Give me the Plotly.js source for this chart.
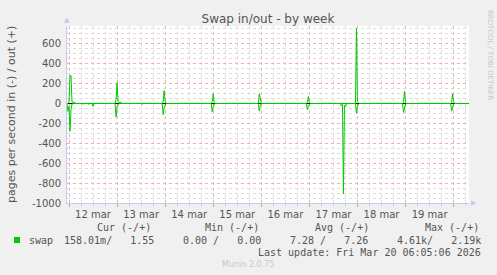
<!DOCTYPE html>
<html>
<head>
<meta charset="utf-8">
<script src="https://cdn.plot.ly/plotly-3.0.1.min.js"></script>
<style>
html,body{margin:0;padding:0;background:#f0f0f0;}
#chart{width:497px;height:275px;}
</style>
</head>
<body>
<div id="chart"></div>
<script>
// ---- data ----
var times = [
  "2026-03-11 23:00","2026-03-11 23:30","2026-03-12 00:00","2026-03-12 00:30","2026-03-12 01:00","2026-03-12 01:30","2026-03-12 02:30","2026-03-12 03:30",
  "2026-03-12 06:30","2026-03-12 07:00","2026-03-12 07:30","2026-03-12 09:30","2026-03-12 10:00","2026-03-12 10:30","2026-03-12 11:30","2026-03-12 12:00","2026-03-12 12:30",
  "2026-03-12 23:00","2026-03-12 23:30","2026-03-13 00:00","2026-03-13 00:30","2026-03-13 01:00","2026-03-13 02:00","2026-03-13 02:30",
  "2026-03-13 12:00","2026-03-13 12:30","2026-03-13 13:00",
  "2026-03-13 22:30","2026-03-13 23:00","2026-03-13 23:30","2026-03-14 00:00","2026-03-14 00:30",
  "2026-03-14 23:00","2026-03-14 23:30","2026-03-15 00:00","2026-03-15 00:30","2026-03-15 01:00",
  "2026-03-15 22:00","2026-03-15 22:30","2026-03-15 23:00","2026-03-15 23:30","2026-03-16 00:00",
  "2026-03-16 22:30","2026-03-16 23:00","2026-03-16 23:30","2026-03-17 00:00","2026-03-17 00:30",
  "2026-03-17 15:30","2026-03-17 16:00","2026-03-17 16:30","2026-03-17 17:00","2026-03-17 17:30","2026-03-17 18:00","2026-03-17 18:30","2026-03-17 19:00",
  "2026-03-17 23:00","2026-03-17 23:30","2026-03-18 00:00","2026-03-18 00:30","2026-03-18 01:00",
  "2026-03-18 15:30","2026-03-18 16:00","2026-03-18 16:30",
  "2026-03-18 22:30","2026-03-18 23:00","2026-03-18 23:30","2026-03-19 00:00","2026-03-19 00:30",
  "2026-03-19 11:00","2026-03-19 11:30","2026-03-19 12:00","2026-03-19 13:30","2026-03-19 14:00","2026-03-19 14:30",
  "2026-03-19 22:30","2026-03-19 23:00","2026-03-19 23:30","2026-03-20 00:00","2026-03-20 00:30","2026-03-20 07:30"
];
var swapOut = [
  0,0,20,280,280,15,10,0,
  0,0,0,0,0,0,0,0,0,
  0,40,207,20,10,10,0,
  0,0,0,
  0,20,130,20,0,
  0,20,97,10,0,
  0,0,97,20,0,
  0,15,70,10,0,
  0,0,0,0,0,0,0,0,
  0,757,20,10,0,
  0,0,0,
  0,20,120,10,0,
  0,0,0,0,0,0,
  0,10,97,20,0,0
];
var swapIn = [
  0,80,30,280,60,5,0,0,
  0,10,0,0,10,0,0,30,0,
  0,137,30,10,0,0,0,
  0,8,0,
  0,113,40,10,0,
  0,83,30,5,0,
  0,10,77,20,0,
  0,63,20,5,0,
  0,25,10,910,20,30,5,0,
  0,97,30,5,0,
  0,5,0,
  0,90,30,5,0,
  0,5,0,0,5,0,
  0,77,30,5,0,0
];
var yTickVals = [-1000,-800,-600,-400,-200,0,200,400,600];
var yTickText = ["-1000","-800","-600","-400","-200","0","200","400","600"];
var dayLabelPos = ["2026-03-12 12:00","2026-03-13 12:00","2026-03-14 12:00","2026-03-15 12:00","2026-03-16 12:00","2026-03-17 12:00","2026-03-18 12:00","2026-03-19 12:00"];
var dayLabels = ["12 mar","13 mar","14 mar","15 mar","16 mar","17 mar","18 mar","19 mar"];
var legendCols = ["Cur (-/+)","Min (-/+)","Avg (-/+)","Max (-/+)"];
var legendVals = ["158.01m/   1.55","0.00 /   0.00","7.28 /   7.26","4.61k/   2.19k"];
var seriesName = "swap";
var lastUpdate = "Last update: Fri Mar 20 06:05:06 2026";

// ---- layout helpers (pixel geometry) ----
var W = 497, H = 275, L = 67, R = 28, T = 26, B = 72;
var PW = W - L - R, PH = H - T - B;
function px(x){ return (x - L) / PW; }
function py(y){ return (H - B - y) / PH; }

var green = "#00cc00";
var xRange = ["2026-03-11 23:00", "2026-03-20 07:40"];

var traces = [
  {x: times, y: swapIn.map(function(v){return -v;}), type: "scatter", mode: "lines",
   line: {color: green, width: 1}, hoverinfo: "skip", showlegend: false},
  {x: times, y: swapOut, type: "scatter", mode: "lines",
   line: {color: green, width: 1}, hoverinfo: "skip", showlegend: false}
];

var mono = "DejaVu Sans Mono";
var txt = "#555";
var ann = [];
var colX = [95, 203, 313, 423];
var valRight = [156, 263, 370, 483];
for (var i = 0; i < legendCols.length; i++) {
  ann.push({xref: "paper", yref: "paper", x: px(colX[i]), y: py(227), xanchor: "left", yanchor: "middle",
    text: legendCols[i], showarrow: false, font: {family: mono, size: 10, color: txt}});
  ann.push({xref: "paper", yref: "paper", x: px(valRight[i]), y: py(240), xanchor: "right", yanchor: "middle",
    text: legendVals[i].replace(/ /g, "\u00a0"), showarrow: false, font: {family: mono, size: 10, color: txt}});
}
ann.push({xref: "paper", yref: "paper", x: px(27), y: py(240), xanchor: "left", yanchor: "middle",
  text: seriesName, showarrow: false, font: {family: mono, size: 10, color: txt}});
ann.push({xref: "paper", yref: "paper", x: px(483), y: py(252), xanchor: "right", yanchor: "middle",
  text: lastUpdate, showarrow: false, font: {family: mono, size: 10, color: txt}});
ann.push({xref: "paper", yref: "paper", x: px(248), y: py(264), xanchor: "center", yanchor: "middle",
  text: "Munin 2.0.75", showarrow: false, font: {family: "DejaVu Sans", size: 8, color: "#c8c8c8"}});
ann.push({xref: "paper", yref: "paper", x: px(490), y: py(55), xanchor: "center", yanchor: "middle",
  text: "RRDTOOL / TOBI OETIKER", textangle: 90, showarrow: false, font: {family: "DejaVu Sans", size: 7, color: "#c8c8c8"}});
ann.push({xref: "paper", yref: "paper", x: px(12), y: py(115), xanchor: "center", yanchor: "middle",
  text: "pages per second in (-) / out (+)", textangle: -90, showarrow: false, font: {family: "DejaVu Sans", size: 11, color: txt}});
// axis arrows
ann.push({xref: "paper", yref: "paper", x: 0, y: 1.0, xanchor: "center", yanchor: "bottom",
  text: "\u25B2", showarrow: false, font: {family: "DejaVu Sans", size: 7, color: "#c4c8f4"}});
ann.push({xref: "paper", yref: "paper", x: 1.0, y: 0, xanchor: "left", yanchor: "middle",
  text: "\u25B6", showarrow: false, font: {family: "DejaVu Sans", size: 7, color: "#c4c8f4"}});

var layout = {
  width: W, height: H,
  margin: {l: L, r: R, t: T, b: B, pad: 0},
  paper_bgcolor: "#f0f0f0", plot_bgcolor: "#ffffff",
  title: {text: "Swap in/out - by week", x: 0.5, xref: "paper", xanchor: "center", y: 1 - 19 / H, yanchor: "middle",
          font: {family: "DejaVu Sans", size: 12, color: txt}},
  showlegend: false,
  xaxis: {type: "date", range: xRange, tickmode: "linear", tick0: "2026-03-12", dtick: 86400000,
          showticklabels: false, showgrid: true, gridcolor: "#f0b0b0", griddash: "dot", gridwidth: 1,
          ticks: "outside", ticklen: 3, tickcolor: "#f09090",
          minor: {tickmode: "linear", tick0: "2026-03-12", dtick: 21600000, showgrid: true, gridcolor: "#dcdcdc", griddash: "dot",
                  ticks: "outside", ticklen: 2, tickcolor: "#cccccc"},
          showline: true, linecolor: "#c4c8f4", linewidth: 1, zeroline: false, fixedrange: true},
  xaxis2: {type: "date", range: xRange, overlaying: "x", side: "bottom", tickmode: "array", tickvals: dayLabelPos, ticktext: dayLabels,
           showgrid: false, ticks: "", showline: false, zeroline: false, ticklabelstandoff: 4,
           tickfont: {family: "DejaVu Sans", size: 10, color: txt}},
  yaxis: {range: [-1000, 778], tickmode: "array", tickvals: yTickVals, ticktext: yTickText,
          showgrid: true, gridcolor: "#f0b0b0", griddash: "dot", gridwidth: 1, ticks: "", ticklabelstandoff: 3,
          minor: {tickmode: "linear", tick0: 0, dtick: 50, showgrid: true, gridcolor: "#dcdcdc", griddash: "dot"},
          zeroline: true, zerolinecolor: "#000000", zerolinewidth: 1,
          showline: true, linecolor: "#c4c8f4", linewidth: 1,
          tickfont: {family: "DejaVu Sans", size: 10, color: txt}, fixedrange: true},
  annotations: ann,
  shapes: [{type: "rect", xref: "paper", yref: "paper", x0: px(14), x1: px(20), y0: py(243), y1: py(237),
            fillcolor: green, line: {width: 0}}]
};

// dummy trace to activate xaxis2
traces.push({x: [xRange[0]], y: [null], xaxis: "x2", type: "scatter", mode: "lines", hoverinfo: "skip", showlegend: false});

Plotly.newPlot("chart", traces, layout, {displayModeBar: false, staticPlot: true});
</script>
</body>
</html>
